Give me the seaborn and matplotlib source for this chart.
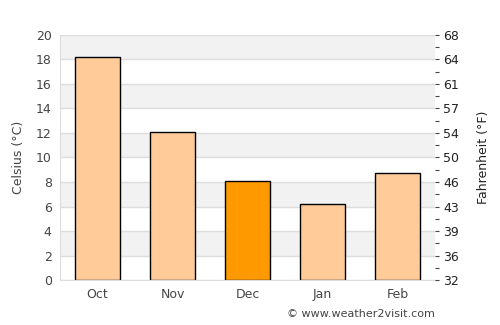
import matplotlib
matplotlib.use('Agg')
import matplotlib.pyplot as plt
import seaborn as sns
import pandas as pd

# monthly average temperature (Celsius)
months = ['Oct', 'Nov', 'Dec', 'Jan', 'Feb']
celsius = [18.2, 12.1, 8.1, 6.2, 8.7]
highlight = 'Dec'
c_ticks = list(range(0, 21, 2))

df = pd.DataFrame({'month': months, 'temp': celsius})
df['sel'] = ['hi' if m == highlight else 'lo' for m in months]

sns.set_style('white')
plt.rcParams['font.family'] = ['DejaVu Sans']
text_col = '#444444'

fig, ax = plt.subplots(figsize=(5, 3.25), dpi=100)
fig.subplots_adjust(left=0.12, right=0.87, top=0.893, bottom=0.138)

# alternating background bands
for lo in range(0, 20, 2):
    if (lo // 2) % 2 == 1:
        ax.axhspan(lo, lo + 2, color='#f2f2f2', zorder=0, lw=0)
for c in c_ticks:
    ax.axhline(c, color='#dddddd', lw=1, zorder=0.5)

sns.barplot(data=df, x='month', y='temp', hue='sel', palette={'hi': '#ff9900', 'lo': '#ffcc99'},
            saturation=1, dodge=False, width=0.6, edgecolor='black', linewidth=1,
            legend=False, ax=ax, zorder=2)

ax.set_ylim(0, 20)
ax.set_xlim(-0.5, len(months) - 0.5)
ax.set_yticks(c_ticks)
ax.set_xlabel('')
ax.set_ylabel('Celsius (°C)', color=text_col, fontsize=9, labelpad=8)
ax.tick_params(axis='both', length=0, labelsize=9, labelcolor=text_col, pad=6)
for s in ['top', 'right']:
    ax.spines[s].set_visible(False)
for s in ['left', 'bottom']:
    ax.spines[s].set_color('#dddddd')

# Fahrenheit axis on the right
ax2 = ax.twinx()
ax2.set_ylim(32, 68)
ax2.set_yticks([c * 1.8 + 32 for c in c_ticks])
ax2.set_yticklabels([str(round(c * 1.8 + 32)) for c in c_ticks])
ax2.set_yticks([c * 1.8 + 32 for c in range(1, 20, 2)], minor=True)
ax2.tick_params(axis='y', which='both', length=3, width=0.8, color='#444444', labelsize=9,
                labelcolor='#222222', pad=3)
ax2.set_ylabel('Fahrenheit (°F)', color='#222222', fontsize=9, labelpad=13)
for s in ax2.spines.values():
    s.set_visible(False)

fig.text(0.87, 0.025, '© www.weather2visit.com', ha='right', fontsize=8, color=text_col)

plt.savefig('out.png', dpi=100)
